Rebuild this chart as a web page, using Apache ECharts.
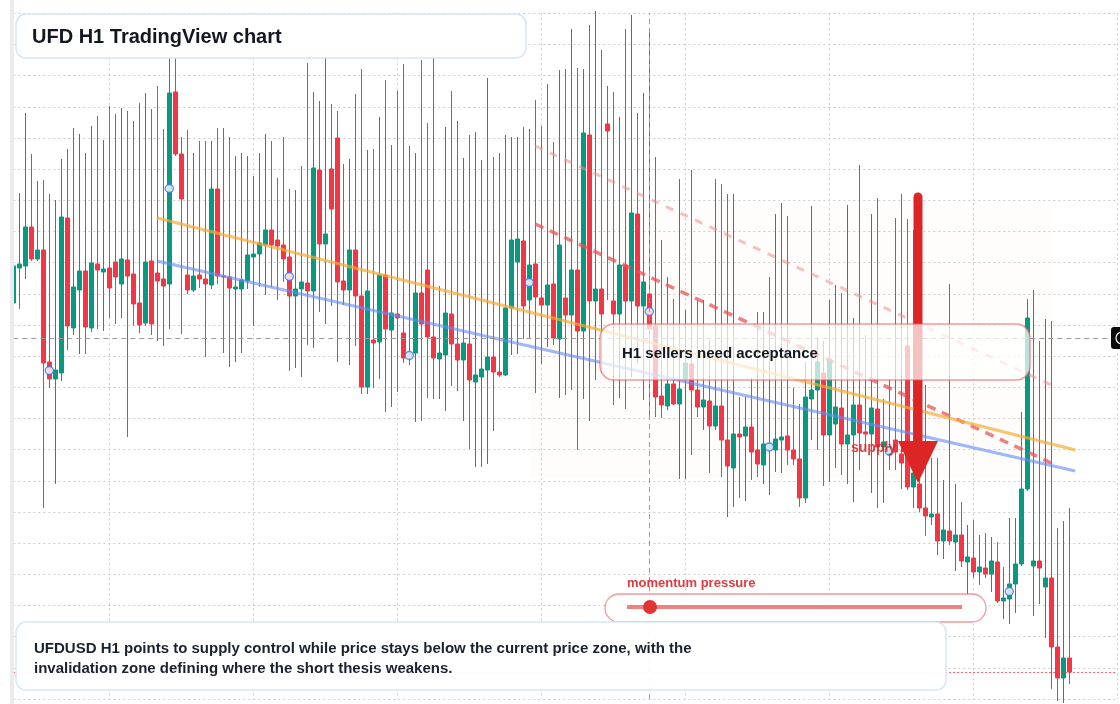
<!DOCTYPE html>
<html>
<head>
<meta charset="utf-8">
<title>UFD H1 TradingView chart</title>
<script src="https://cdn.jsdelivr.net/npm/echarts@6.0.0/dist/echarts.min.js"></script>
<style>
  html, body { margin: 0; padding: 0; background: #ffffff; }
  #chart { width: 1120px; height: 704px; }
</style>
</head>
<body>
<div id="chart"></div>
<script>
// prices are written in pips (0.0001 UFDUSD)
const PIP = 0.0001;

const open = [
  396,431,433,472,440,449,337,320,326,481, 371,409,428,371,435,427,431,437,415,439,
  425,396,376,438,426,420,415,607,545,424, 409,424,420,414,510,423,422,410,410,418,
  442,445,454,469,459,454,442,403,410,416, 408,529,455,530,561,418,409,449,403,312,
  359,357,424,369,385,366,341,346,406,429, 362,340,344,385,355,339,355,317,322,329,
  342,327,324,391,437,458,399,435,401,394, 415,360,401,384,429,368,564,398,410,575,
  398,385,434,398,485,393,405,373,303,293, 315,295,320,335,309,292,298,273,293,259,
  231,265,263,272,249,234,249,249,259,263, 249,240,201,300,309,326,264,275,291,255,
  264,294,267,265,290,252,244,259,245,353, 212,215,191,182,185,158,168,157,164,137,
  141,127,131,125,137,98,100,115,135,210, 133,138,112,121,52,21,41
];
const close = [
  433,435,472,440,449,336,320,329,482,373, 412,428,372,436,429,430,411,422,440,423,
  395,374,437,375,418,413,606,545,500,409, 423,420,415,510,423,422,411,412,419,444,
  445,456,469,454,453,440,403,410,417,408, 531,455,465,490,417,409,449,403,312,408,
  356,424,370,386,381,341,346,406,375,362, 341,346,386,355,339,356,319,324,330,342,
  327,324,391,459,460,393,434,402,394,414, 361,454,384,429,368,566,398,410,385,568,
  385,434,398,486,393,417,370,302,294,315, 295,310,336,309,292,299,273,293,259,233,
  265,262,272,247,235,255,255,260,262,249, 240,201,302,309,337,264,340,292,255,264,
  294,266,265,291,252,257,252,247,236,212, 226,191,183,185,158,169,158,164,138,142,
  127,132,125,138,98,101,115,135,210,381, 138,131,121,52,21,41,27
];
const high = [
  437,506,586,545,518,519,505,499,540,550, 571,565,546,573,583,559,593,585,591,588,
  578,596,606,590,613,570,642,641,562,569, 546,558,558,558,571,571,562,543,546,543,
  523,546,565,558,521,562,510,509,533,636, 607,598,641,595,588,535,540,605,630,549,
  550,582,619,554,608,635,553,546,639,576, 641,413,572,608,578,541,564,567,539,621,
  542,546,564,562,562,572,570,599,573,615, 557,629,630,670,631,630,674,688,649,613,
  607,582,670,684,586,606,667,542,459,422, 400,520,389,529,399,399,359,520,515,505,
  505,302,302,321,387,387,422,485,496,483, 311,295,337,493,362,358,399,414,406,494,
  381,534,364,485,501,300,319,481,505,480, 469,239,314,241,241,219,415,215,197,174,
  179,164,166,162,157,132,181,181,287,400, 409,358,380,378,171,178,191
];
const low = [
  393,390,420,438,438,191,311,215,318,349, 364,345,345,367,370,368,381,375,381,262,
  373,366,373,364,358,353,370,543,365,405, 407,411,342,410,415,346,332,337,346,410,
  373,412,404,412,399,417,328,331,322,354, 351,387,375,393,337,394,334,353,305,305,
  311,320,287,292,307,336,334,277,278,301, 300,300,288,313,308,278,250,232,232,235,
  268,322,323,344,345,360,360,306,335,352, 354,301,304,309,249,300,278,319,326,399,
  294,301,290,322,336,299,279,282,281,289, 294,220,220,244,282,269,226,269,222,182,
  192,201,198,219,222,215,204,227,226,234, 234,192,196,259,249,213,217,231,224,215,
  197,229,249,206,191,196,229,229,210,209, 191,187,163,174,144,140,154,128,132,105,
  121,114,121,107,96,80,75,86,133,208, 83,95,61,10,-2,-4,15
];

// bar index labels, the axis runs a few empty bars past the last candle
const categories = Array.from({ length: 185 }, (_, i) => String(i));

// session markers every 20 bars
const markerBars = [6, 26, 46, 66, 86, 106, 126, 146, 166];

// drawn lines: [bar, pips]
const orangeTrend = [[24, 481], [177, 249]];
const blueTrend = [[24, 438], [177, 228]];
const redChannel = [[87, 475], [173, 236]];
const pinkChannel = [[87, 553], [173, 314]];
const supplyZone = { fromBar: 86, toBar: 173, top: 493, bottom: 221 };
const crossBar = 106;
const crossPrice = 361;

const GRID_STEP = 0.0031168;
const FONT = '"Liberation Sans", Arial, sans-serif';

const candles = open.map((o, i) => [o * PIP, close[i] * PIP, low[i] * PIP, high[i] * PIP]);
const toPrice = (pts) => pts.map((p) => [p[0], p[1] * PIP]);
const markers = markerBars.map((i) => [i, ((open[i] + close[i]) / 2) * PIP]);
const lastClose = close[close.length - 1] * PIP;

const chart = echarts.init(document.getElementById('chart'), null, { renderer: 'canvas' });

const trend = (name, pts, color, width, dash, z) => ({
  name: name,
  type: 'line',
  data: toPrice(pts),
  symbol: 'none',
  silent: true,
  z: z,
  lineStyle: { color: color, width: width, type: dash },
});

chart.setOption({
  animation: false,
  backgroundColor: '#ffffff',
  grid: { left: 13.3, right: 2.7, top: 13.3, bottom: 5 },
  xAxis: {
    type: 'category',
    data: categories,
    boundaryGap: false,
    axisLine: { show: false },
    axisTick: { show: false },
    axisLabel: { show: false },
    splitLine: {
      show: true,
      interval: (i) => i % 24 === 16,
      lineStyle: { color: '#cdcdcd', width: 1, type: [2, 3] },
    },
  },
  yAxis: {
    type: 'value',
    min: 0,
    max: GRID_STEP * 22,
    interval: GRID_STEP,
    axisLine: { show: false },
    axisTick: { show: false },
    axisLabel: { show: false },
    splitLine: {
      show: true,
      lineStyle: { color: '#cdcdcd', width: 1, type: [2, 3] },
    },
  },
  series: [
    {
      name: 'UFDUSD',
      type: 'candlestick',
      data: candles,
      barWidth: 4.4,
      clip: false,
      z: 2,
      itemStyle: {
        color: '#089981',
        color0: '#f23645',
        borderColor: '#089981',
        borderColor0: '#f23645',
        borderWidth: 1,
      },
      markArea: {
        silent: true,
        itemStyle: { color: 'rgba(238,206,176,0.045)' },
        data: [[
          { xAxis: supplyZone.fromBar, yAxis: supplyZone.top * PIP },
          { xAxis: supplyZone.toBar, yAxis: supplyZone.bottom * PIP },
        ]],
      },
      markLine: {
        silent: true,
        symbol: 'none',
        precision: 6,
        label: { show: false },
        data: [
          { xAxis: crossBar, lineStyle: { color: '#9a9a9a', width: 1, type: [5, 4] } },
          { yAxis: crossPrice * PIP, lineStyle: { color: '#9a9a9a', width: 1, type: [5, 4] } },
          { yAxis: lastClose, lineStyle: { color: '#f23645', width: 1, type: [1.5, 2.5] } },
        ],
      },
    },
    trend('pink channel', pinkChannel, 'rgba(240,140,140,0.55)', 3, [8, 8], 3),
    trend('red channel', redChannel, 'rgba(232,84,84,0.75)', 3.5, [9, 7], 3),
    trend('orange trend', orangeTrend, 'rgba(246,170,50,0.7)', 3, 'solid', 3),
    trend('blue trend', blueTrend, 'rgba(100,140,246,0.62)', 3, 'solid', 3),
    {
      name: 'markers',
      type: 'scatter',
      data: markers,
      symbol: 'circle',
      symbolSize: 8,
      z: 4,
      itemStyle: { color: '#ffffff', borderColor: '#3a6ff0', borderWidth: 1.5 },
    },
  ],
  graphic: [
    { type: 'rect', z: 30, shape: { x: 10, y: 0, width: 4, height: 704 }, style: { fill: '#ebebeb' } },

    // supply label and arrow
    {
      type: 'text', z: 15, x: 851, y: 448,
      style: { text: 'supply zone', font: 'bold 14px ' + FONT, fill: 'rgba(220,38,38,0.85)', verticalAlign: 'middle' },
    },
    {
      type: 'line', z: 20,
      shape: { x1: 918, y1: 197, x2: 918, y2: 446 },
      style: { stroke: '#dc2626', lineWidth: 9, lineCap: 'round' },
    },
    {
      type: 'polygon', z: 20,
      shape: { points: [[898, 441], [938, 441], [918, 483]] },
      style: { fill: '#dc2626' },
    },

    // callout
    {
      type: 'rect', z: 30,
      shape: { x: 600, y: 324, width: 430, height: 56, r: 14 },
      style: { fill: 'rgba(255,255,255,0.72)', stroke: 'rgba(232,90,90,0.6)', lineWidth: 1.5 },
    },
    {
      type: 'text', z: 31, x: 622, y: 354,
      style: { text: 'H1 sellers need acceptance', font: 'bold 15px ' + FONT, fill: '#131722', verticalAlign: 'middle' },
    },

    // momentum gauge
    {
      type: 'text', z: 31, x: 627, y: 583,
      style: { text: 'momentum pressure', font: 'bold 13px ' + FONT, fill: '#e0393e', verticalAlign: 'middle' },
    },
    {
      type: 'rect', z: 30,
      shape: { x: 605, y: 594, width: 381, height: 28, r: 14 },
      style: { fill: 'rgba(255,255,255,0.85)', stroke: 'rgba(232,100,100,0.65)', lineWidth: 1.3 },
    },
    {
      type: 'line', z: 31,
      shape: { x1: 627, y1: 607, x2: 962, y2: 607 },
      style: { stroke: 'rgba(230,90,90,0.75)', lineWidth: 4 },
    },
    { type: 'circle', z: 32, shape: { cx: 650, cy: 607, r: 7 }, style: { fill: '#e03535' } },

    // title
    {
      type: 'rect', z: 30,
      shape: { x: 16, y: 14, width: 510, height: 44, r: 10 },
      style: { fill: 'rgba(255,255,255,0.94)', stroke: '#d7e3f8', lineWidth: 1.5 },
    },
    {
      type: 'text', z: 31, x: 32, y: 37,
      style: { text: 'UFD H1 TradingView chart', font: 'bold 20px ' + FONT, fill: '#131722', verticalAlign: 'middle' },
    },

    // summary
    {
      type: 'rect', z: 30,
      shape: { x: 16, y: 622, width: 930, height: 68, r: 10 },
      style: { fill: 'rgba(255,255,255,0.94)', stroke: '#d9e5f8', lineWidth: 1.5 },
    },
    {
      type: 'text', z: 31, x: 34, y: 648.5,
      style: {
        text: 'UFDUSD H1 points to supply control while price stays below the current price zone, with the',
        font: 'bold 15px ' + FONT, fill: '#1a2130', verticalAlign: 'middle',
      },
    },
    {
      type: 'text', z: 31, x: 34, y: 668.5,
      style: {
        text: 'invalidation zone defining where the short thesis weakens.',
        font: 'bold 15px ' + FONT, fill: '#1a2130', verticalAlign: 'middle',
      },
    },

    // price label stub at the right edge
    {
      type: 'rect', z: 30,
      shape: { x: 1111, y: 327, width: 20, height: 22, r: 3 },
      style: { fill: '#0b0b0b' },
    },
    {
      type: 'circle', z: 31,
      shape: { cx: 1122, cy: 338, r: 6 },
      style: { fill: 'none', stroke: '#ffffff', lineWidth: 1.2 },
    },
  ],
});
</script>
</body>
</html>
